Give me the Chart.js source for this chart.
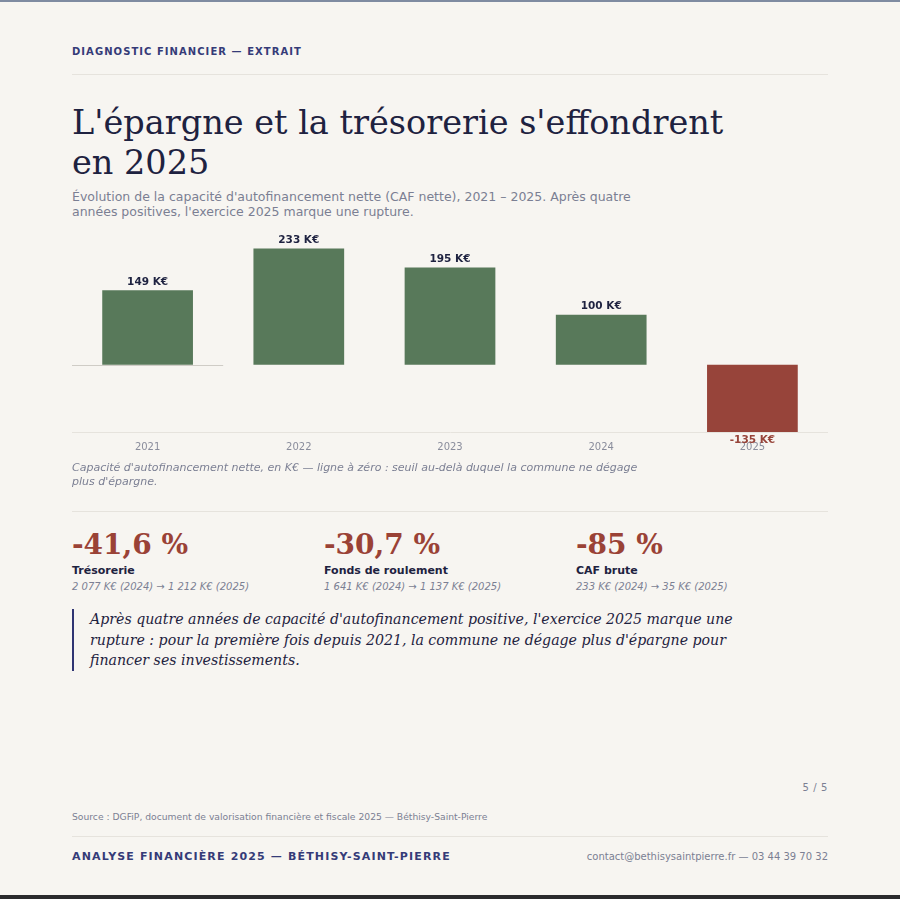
<!DOCTYPE html>
<html lang="fr">
<head>
<meta charset="utf-8">
<script src="https://cdn.jsdelivr.net/npm/chart.js@4.4.1/dist/chart.umd.min.js"></script>
<style>
  html, body { margin: 0; padding: 0; }
  body { width: 900px; height: 899px; background: #f7f5f1; font-family: 'DejaVu Sans', sans-serif; overflow: hidden; position: relative; }
  .topbar { position: absolute; left: 0; top: 0; width: 900px; height: 2px; background: #7f8ba1; }
  .botbar { position: absolute; left: 0; top: 895px; width: 900px; height: 4px; background: #2b2b2d; }
  .abs { position: absolute; left: 72px; }
  .rule { position: absolute; left: 72px; width: 756px; height: 1px; background: #e6e3dd; }
  .kicker { top: 45px; font-size: 10px; line-height: 14px; font-weight: bold; letter-spacing: 1.05px; color: #353b78; }
  h1 { margin: 0; top: 103px; font-family: 'DejaVu Serif', serif; font-weight: normal; font-size: 33.5px; line-height: 40px; color: #1e2240; width: 700px; }
  .sub { top: 189px; font-size: 12.5px; line-height: 15px; color: #7b7f93; width: 575px; }
  .chart { position: absolute; left: 72px; top: 230px; width: 756px; height: 232px; }
  .caption { top: 461px; font-size: 11px; line-height: 14px; font-style: italic; color: #7b7f93; width: 580px; }
  .kpi { position: absolute; top: 529px; width: 252px; }
  .kpi .val { font-family: 'DejaVu Serif', serif; font-weight: bold; font-size: 28px; line-height: 32px; color: #9a4236; }
  .kpi .lbl { margin-top: 3px; font-size: 11px; line-height: 14px; font-weight: bold; color: #1e2240; }
  .kpi .det { margin-top: 2px; font-size: 10px; line-height: 13px; font-style: italic; color: #7b7f93; }
  .quote { top: 609px; border-left: 2px solid #2f3573; padding-left: 16px; width: 680px; font-family: 'DejaVu Serif', serif; font-style: italic; font-size: 14.15px; line-height: 20.5px; color: #1e2240; }
  .page { position: absolute; right: 72px; top: 781px; font-size: 10px; line-height: 14px; letter-spacing: 0.6px; color: #7b7f93; }
  .source { top: 811px; font-size: 9.2px; line-height: 12px; color: #7b7f93; }
  .foot-l { top: 850px; font-size: 11px; line-height: 14px; font-weight: bold; letter-spacing: 1.15px; color: #353b78; }
  .foot-r { position: absolute; right: 72px; top: 850px; font-size: 10px; line-height: 14px; color: #7b7f93; }
</style>
</head>
<body>
<div class="topbar"></div>
<div class="abs kicker">DIAGNOSTIC FINANCIER — EXTRAIT</div>
<div class="rule" style="top:74px"></div>
<h1 class="abs">L'épargne et la trésorerie s'effondrent en 2025</h1>
<div class="abs sub">Évolution de la capacité d'autofinancement nette (CAF nette), 2021 – 2025. Après quatre années positives, l'exercice 2025 marque une rupture.</div>
<div class="chart"><canvas id="caf-chart"></canvas></div>
<div class="abs caption">Capacité d'autofinancement nette, en K€ — ligne à zéro : seuil au-delà duquel la commune ne dégage plus d'épargne.</div>
<div class="rule" style="top:511px"></div>
<div id="kpis"></div>
<div class="abs quote">Après quatre années de capacité d'autofinancement positive, l'exercice 2025 marque une rupture : pour la première fois depuis 2021, la commune ne dégage plus d'épargne pour financer ses investissements.</div>
<div class="page">5 / 5</div>
<div class="abs source">Source : DGFiP, document de valorisation financière et fiscale 2025 — Béthisy-Saint-Pierre</div>
<div class="rule" style="top:836px"></div>
<div class="abs foot-l">ANALYSE FINANCIÈRE 2025 — BÉTHISY-SAINT-PIERRE</div>
<div class="foot-r">contact@bethisysaintpierre.fr — 03 44 39 70 32</div>
<div class="botbar"></div>

<script>
const annees = ['2021', '2022', '2023', '2024', '2025']
const cafNette = [149, 233, 195, 100, -135]

const kpiValeurs = ['-41,6 %', '-30,7 %', '-85 %']
const kpiLibelles = ['Trésorerie', 'Fonds de roulement', 'CAF brute']
const kpiDetails = [
  '2 077 K€ (2024) → 1 212 K€ (2025)',
  '1 641 K€ (2024) → 1 137 K€ (2025)',
  '233 K€ (2024) → 35 K€ (2025)'
]

const VERT = '#58795a'
const ROUGE = '#97443a'

document.getElementById('kpis').innerHTML = kpiValeurs.map((v, i) => `
  <div class="kpi" style="left:${72 + i * 252}px">
    <div class="val">${v}</div>
    <div class="lbl">${kpiLibelles[i]}</div>
    <div class="det">${kpiDetails[i]}</div>
  </div>`).join('')

// etiquettes de valeur au-dessus / en dessous des barres
const etiquettes = {
  id: 'etiquettes',
  afterDatasetsDraw(chart) {
    const ctx = chart.ctx
    const meta = chart.getDatasetMeta(0)
    ctx.save()
    ctx.font = 'bold 10.5px "DejaVu Sans"'
    ctx.textAlign = 'center'
    meta.data.forEach((bar, i) => {
      const v = cafNette[i]
      if (v >= 0) {
        ctx.fillStyle = '#1e2240'
        ctx.textBaseline = 'bottom'
        ctx.fillText(v + ' K€', bar.x, bar.y - 3)
      } else {
        ctx.fillStyle = ROUGE
        ctx.textBaseline = 'top'
        ctx.fillText(v + ' K€', bar.x, bar.y + 3)
      }
    })
    ctx.restore()
  }
}

// ligne du zero, sous la premiere annee
const ligneZero = {
  id: 'ligneZero',
  beforeDatasetsDraw(chart) {
    const { ctx, chartArea, scales } = chart
    const y0 = Math.round(scales.y.getPixelForValue(0)) + 0.5
    const band = (chartArea.right - chartArea.left) / annees.length
    ctx.save()
    ctx.strokeStyle = '#cfccc6'
    ctx.lineWidth = 1
    ctx.beginPath()
    ctx.moveTo(chartArea.left, y0)
    ctx.lineTo(chartArea.left + band, y0)
    ctx.stroke()
    ctx.restore()
  }
}

new Chart(document.getElementById('caf-chart'), {
  type: 'bar',
  data: {
    labels: annees,
    datasets: [{
      data: cafNette,
      backgroundColor: cafNette.map(v => v < 0 ? ROUGE : VERT),
      borderWidth: 0,
      categoryPercentage: 1,
      barPercentage: 0.6
    }]
  },
  options: {
    responsive: true,
    maintainAspectRatio: false,
    animation: false,
    layout: { padding: 0 },
    plugins: { legend: { display: false }, tooltip: { enabled: false } },
    scales: {
      y: { display: false, min: -135, max: 270 },
      x: {
        grid: { display: false, drawTicks: false },
        border: { display: true, color: '#e6e3dd', width: 1 },
        ticks: { color: '#8a8d9c', font: { family: 'DejaVu Sans', size: 10 }, padding: 9 }
      }
    }
  },
  plugins: [ligneZero, etiquettes]
})
</script>
</body>
</html>
